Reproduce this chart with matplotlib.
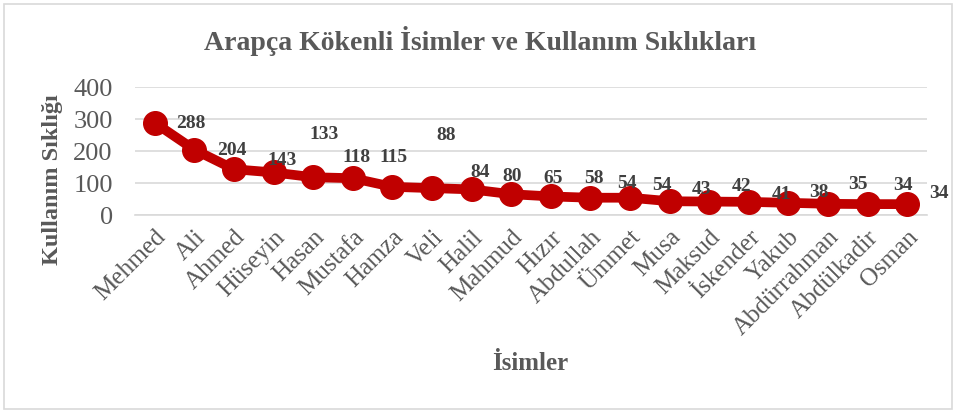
import matplotlib
matplotlib.use("Agg")
import matplotlib.pyplot as plt
from matplotlib.patches import Rectangle

names = ["Mehmed", "Ali", "Ahmed", "Hüseyin", "Hasan", "Mustafa", "Hamza", "Veli",
         "Halil", "Mahmud", "Hızır", "Abdullah", "Ümmet", "Musa", "Maksud",
         "İskender", "Yakub", "Abdürrahman", "Abdülkadir", "Osman"]
counts = [288, 204, 143, 133, 118, 115, 88, 84, 80, 65, 58, 54, 54, 43, 42,
          41, 38, 35, 34, 34]
yticks = [0, 100, 200, 300, 400]

# label offsets (pixels) as placed in the reference
label_dx = [36, 37, 48, 50, 43, 41, 54, 48, 41, 42, 43, 37, 32, 32, 32, 33, 31, 30, 35, 32]
label_dy = [-1, -1, 9, 38, 20, 21, 51, 16, 13, 16, 18, 14, 12, 12, 15, 7, 10, 19, 19, 11]

plt.rcParams['font.family'] = ['Liberation Serif', 'DejaVu Serif']

W, H = 961, 412
fig = plt.figure(figsize=(W / 100, H / 100), dpi=100)
fig.patches.append(Rectangle((4 / W, 3 / H), 948 / W, 405 / H, transform=fig.transFigure,
                             fill=False, edgecolor='#D9D9D9', linewidth=1.2))

ax = fig.add_axes([135 / W, 1 - 215 / H, 792 / W, 128 / H])
x = list(range(len(names)))
red = '#C00000'
ax.plot(x, counts, color=red, linewidth=7, marker='o', markersize=17,
        markerfacecolor=red, markeredgecolor=red, zorder=3, clip_on=False)

for i, v in enumerate(counts):
    ax.annotate(str(v), (i, v), xytext=(label_dx[i], label_dy[i]), textcoords='offset pixels',
                ha='center', va='center', fontsize=14, fontweight='bold', color='#404040',
                zorder=4, annotation_clip=False)

ax.set_xlim(-0.5, len(names) - 0.5)
ax.set_ylim(0, 400)
ax.set_yticks(yticks)
ax.set_yticklabels([str(t) for t in yticks], fontsize=19, color='#595959')
ax.set_xticks(x)
ax.set_xticklabels(names, rotation=45, ha='right', va='top', rotation_mode='anchor',
                   fontsize=18, color='#595959')
ax.tick_params(axis='y', length=0, pad=16)
ax.tick_params(axis='x', length=0, pad=8)
ax.grid(axis='y', color='#D9D9D9', linewidth=1.2)
ax.set_axisbelow(True)
for s in ['top', 'right', 'left']:
    ax.spines[s].set_visible(False)
ax.spines['bottom'].set_color('#D9D9D9')
ax.spines['bottom'].set_linewidth(1.2)

fig.text(53 / W, 1 - 180 / H, "Kullanım Sıklığı", rotation=90, ha='center', va='center',
         fontsize=17.5, fontweight='bold', color='#595959')
fig.text(530 / W, 1 - 363 / H, "İsimler", ha='center', va='center', fontsize=18,
         fontweight='bold', color='#595959')
fig.text(480 / W, 1 - 41 / H, "Arapça Kökenli İsimler ve Kullanım Sıklıkları", ha='center',
         va='center', fontsize=20, fontweight='bold', color='#595959')

fig.savefig("out.png", dpi=100)
